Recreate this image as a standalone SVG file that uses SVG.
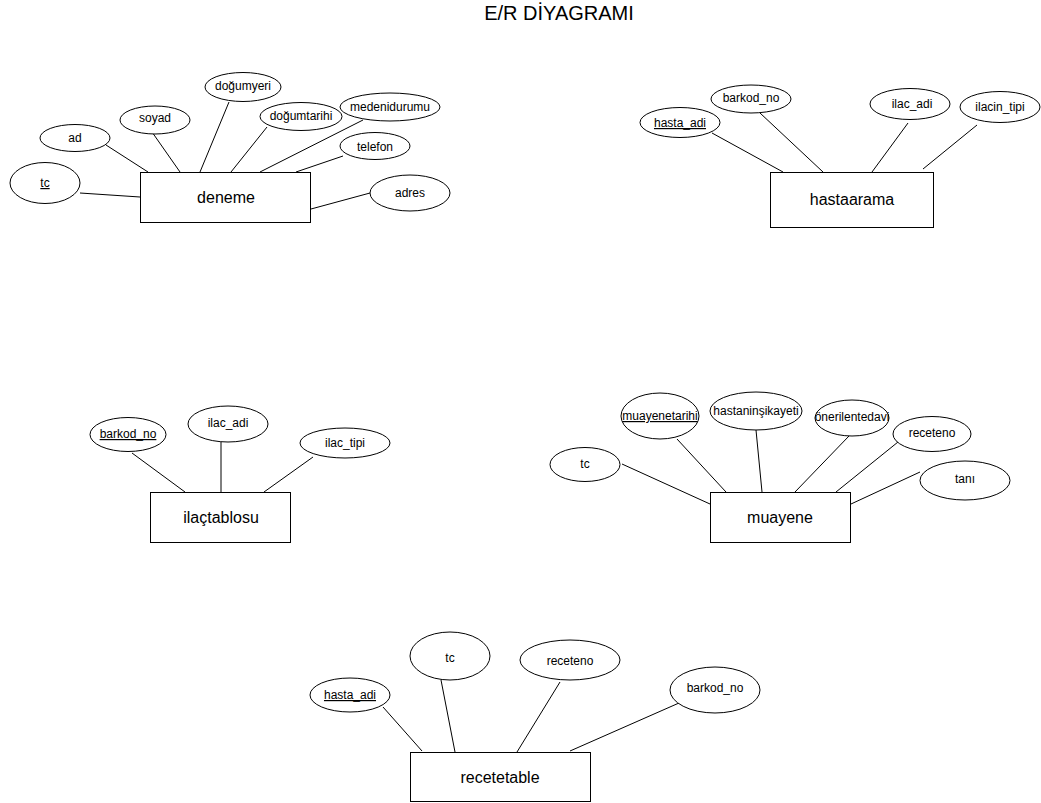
<svg xmlns="http://www.w3.org/2000/svg" width="1041" height="803" viewBox="0 0 1041 803">
<style>
.ent{fill:#fff;stroke:#000;stroke-width:1}
.att{fill:#fff;stroke:#000;stroke-width:1}
.et{font-family:"Liberation Sans",Arial,sans-serif;font-size:16px;fill:#000;text-anchor:middle}
.at{font-family:"Liberation Sans",Arial,sans-serif;font-size:12px;fill:#000;text-anchor:middle}
.title{font-family:"Liberation Sans",Arial,sans-serif;font-size:20px;fill:#000;text-anchor:middle}
.u{text-decoration:underline}
#connectors line{stroke:#000;stroke-width:1}
</style>
<rect width="1041" height="803" fill="#fff"/>
<text class="title" x="559" y="20">E/R DİYAGRAMI</text>
<g id="connectors">
<line x1="80" y1="193" x2="140" y2="197"/>
<line x1="106" y1="145" x2="148" y2="172"/>
<line x1="152" y1="132" x2="180" y2="172"/>
<line x1="229" y1="102" x2="200" y2="172"/>
<line x1="267" y1="127" x2="231" y2="172"/>
<line x1="363" y1="120" x2="260" y2="172"/>
<line x1="343" y1="156" x2="296" y2="172"/>
<line x1="370" y1="193" x2="311" y2="209"/>
<line x1="712" y1="133" x2="783" y2="172"/>
<line x1="760" y1="113" x2="823" y2="172"/>
<line x1="908" y1="123" x2="872" y2="172"/>
<line x1="977" y1="125" x2="923" y2="169"/>
<line x1="132" y1="453" x2="185" y2="492"/>
<line x1="221" y1="442" x2="221" y2="492"/>
<line x1="313" y1="457" x2="264" y2="492"/>
<line x1="622" y1="464" x2="710" y2="504"/>
<line x1="677" y1="439" x2="726" y2="492"/>
<line x1="756" y1="430" x2="762" y2="492"/>
<line x1="849" y1="436" x2="795" y2="492"/>
<line x1="898" y1="442" x2="836" y2="492"/>
<line x1="920" y1="472" x2="851" y2="504"/>
<line x1="383" y1="707" x2="422" y2="751"/>
<line x1="441" y1="680" x2="455" y2="752"/>
<line x1="560" y1="682" x2="517" y2="752"/>
<line x1="679" y1="703" x2="570" y2="751"/>
</g>
<g id="deneme"><rect class="ent" x="140.5" y="172.5" width="170" height="50"/><text class="et" x="226" y="203">deneme</text></g>
<g id="deneme-tc"><ellipse class="att" cx="45" cy="183" rx="35" ry="20.5"/><text class="at u" x="45" y="187">tc</text></g>
<g id="deneme-ad"><ellipse class="att" cx="75" cy="138" rx="35" ry="13.5"/><text class="at" x="75" y="142">ad</text></g>
<g id="deneme-soyad"><ellipse class="att" cx="155" cy="120" rx="35" ry="14"/><text class="at" x="155" y="122">soyad</text></g>
<g id="deneme-dogumyeri"><ellipse class="att" cx="243" cy="87" rx="38" ry="14.5"/><text class="at" x="243" y="90">doğumyeri</text></g>
<g id="deneme-dogumtarihi"><ellipse class="att" cx="301" cy="116.5" rx="41" ry="14"/><text class="at" x="301" y="120">doğumtarihi</text></g>
<g id="deneme-medenidurumu"><ellipse class="att" cx="390" cy="107" rx="50" ry="14"/><text class="at" x="390" y="111">medenidurumu</text></g>
<g id="deneme-telefon"><ellipse class="att" cx="375" cy="146" rx="35" ry="13.5"/><text class="at" x="375" y="151">telefon</text></g>
<g id="deneme-adres"><ellipse class="att" cx="410" cy="193" rx="40" ry="18"/><text class="at" x="410" y="197">adres</text></g>
<g id="hastaarama"><rect class="ent" x="770.5" y="172.5" width="163" height="55"/><text class="et" x="852" y="205">hastaarama</text></g>
<g id="hastaarama-hasta_adi"><ellipse class="att" cx="680" cy="122.5" rx="40" ry="15"/><text class="at u" x="680" y="127">hasta_adi</text></g>
<g id="hastaarama-barkod_no"><ellipse class="att" cx="751" cy="99" rx="40" ry="14"/><text class="at" x="751" y="102">barkod_no</text></g>
<g id="hastaarama-ilac_adi"><ellipse class="att" cx="910" cy="104" rx="40" ry="15.5"/><text class="at" x="912" y="108">ilac_adi</text></g>
<g id="hastaarama-ilacin_tipi"><ellipse class="att" cx="1000" cy="107" rx="40" ry="15.5"/><text class="at" x="1000" y="111">ilacin_tipi</text></g>
<g id="ilactablosu"><rect class="ent" x="150.5" y="492.5" width="140" height="50"/><text class="et" x="221" y="523">ilaçtablosu</text></g>
<g id="ilactablosu-barkod_no"><ellipse class="att" cx="128" cy="434.5" rx="38" ry="17"/><text class="at u" x="128" y="438">barkod_no</text></g>
<g id="ilactablosu-ilac_adi"><ellipse class="att" cx="228" cy="424" rx="40" ry="18"/><text class="at" x="228" y="427">ilac_adi</text></g>
<g id="ilactablosu-ilac_tipi"><ellipse class="att" cx="345" cy="443" rx="45" ry="15"/><text class="at" x="345" y="447">ilac_tipi</text></g>
<g id="muayene"><rect class="ent" x="710.5" y="492.5" width="140" height="50"/><text class="et" x="780" y="523">muayene</text></g>
<g id="muayene-tc"><ellipse class="att" cx="585" cy="464.5" rx="35" ry="17"/><text class="at" x="585" y="468">tc</text></g>
<g id="muayene-muayenetarihi"><ellipse class="att" cx="660" cy="416" rx="39" ry="23"/><text class="at u" x="660" y="420">muayenetarihi</text></g>
<g id="muayene-hastaninsikayeti"><ellipse class="att" cx="756" cy="411" rx="46" ry="19"/><text class="at" x="756" y="415">hastaninşikayeti</text></g>
<g id="muayene-onerilentedavi"><ellipse class="att" cx="852" cy="418" rx="37" ry="18"/><text class="at" x="852" y="421">önerilentedavi</text></g>
<g id="muayene-receteno"><ellipse class="att" cx="932" cy="434" rx="39" ry="17.5"/><text class="at" x="932" y="437">receteno</text></g>
<g id="muayene-tani"><ellipse class="att" cx="965" cy="480.5" rx="45" ry="19.5"/><text class="at" x="965" y="483">tanı</text></g>
<g id="recetetable"><rect class="ent" x="410.5" y="752.5" width="180" height="49"/><text class="et" x="500" y="783">recetetable</text></g>
<g id="recetetable-hasta_adi"><ellipse class="att" cx="350" cy="695" rx="40" ry="17"/><text class="at u" x="350" y="699">hasta_adi</text></g>
<g id="recetetable-tc"><ellipse class="att" cx="450" cy="656" rx="40" ry="24"/><text class="at" x="450" y="662">tc</text></g>
<g id="recetetable-receteno"><ellipse class="att" cx="570" cy="660" rx="50" ry="20"/><text class="at" x="570" y="665">receteno</text></g>
<g id="recetetable-barkod_no"><ellipse class="att" cx="715" cy="690" rx="45" ry="23"/><text class="at" x="715" y="692">barkod_no</text></g>
</svg>
